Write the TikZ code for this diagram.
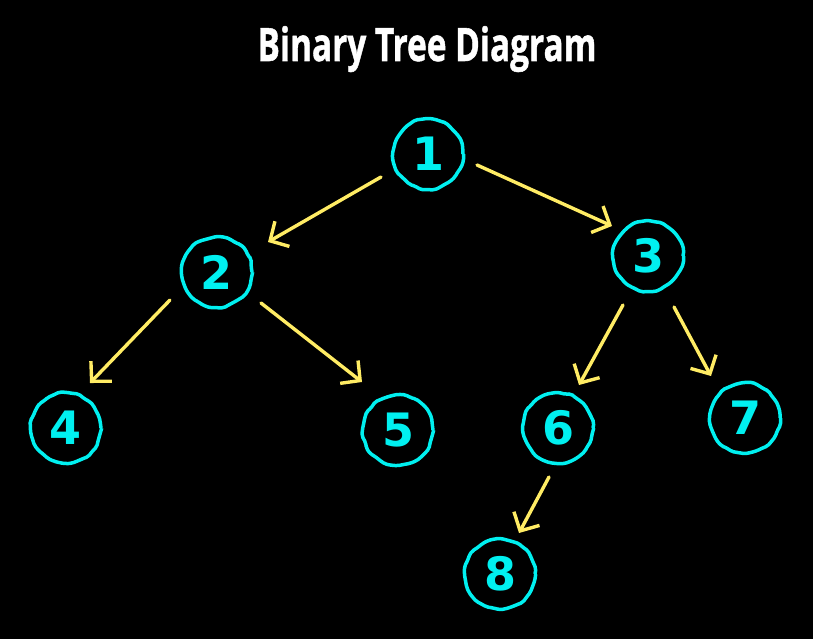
\documentclass[tikz,border=0pt]{standalone}
\usepackage{fontspec}
\usepackage{graphicx}
\usetikzlibrary{arrows.meta,decorations.pathmorphing,calc}
\newfontfamily\titlefont{Open Sans}[BoldFeatures={FakeBold=1.2}]
\newfontfamily\digitfont{DejaVu Sans}
\definecolor{tcyan}{RGB}{0,240,240}
\definecolor{tyellow}{RGB}{255,236,100}
\tikzset{
  tnode/.style={circle, draw=tcyan, line width=3.5pt, minimum size=70pt, inner sep=0pt,
    text=tcyan, font=\digitfont\bfseries\fontsize{46}{46}\selectfont,
    decorate, decoration={random steps, segment length=6pt, amplitude=1pt},
    rounded corners=2pt},
  arr/.style={draw=tyellow, line width=3.4pt, line cap=round,
    -{Straight Barb[length=14pt, width=29pt]}},
}
\begin{document}
\begin{tikzpicture}[x=1pt, y=-1pt]
\pgfmathsetseed{7}
\fill[black] (0,0) rectangle (813,639);
\useasboundingbox (0,0) rectangle (813,639);
\node[text=white, anchor=base] (title) at (427,61)
  {\resizebox{339pt}{\height}{\titlefont\bfseries\fontsize{46}{46}\selectfont Binary Tree Diagram}};
\node[tnode] (n1) at (428,154) {1};
\node[tnode] (n2) at (217,272) {2};
\node[tnode] (n3) at (648,256) {3};
\node[tnode] (n4) at (66,428) {4};
\node[tnode] (n5) at (398,430) {5};
\node[tnode] (n6) at (558,428) {6};
\node[tnode] (n7) at (745,418) {7};
\node[tnode] (n8) at (500,574) {8};
\draw[arr] ($(n1)+(-47,23)$) -- ($(n2)+(51,-30)$);
\draw[arr] ($(n1)+(49,11)$) -- ($(n3)+(-36,-30)$);
\draw[arr] ($(n2)+(-47,28)$) -- ($(n4)+(24,-45)$);
\draw[arr] ($(n2)+(44,31)$) -- ($(n5)+(-36,-48)$);
\draw[arr] ($(n3)+(-25,49)$) -- ($(n6)+(21,-43)$);
\draw[arr] ($(n3)+(26,51)$) -- ($(n7)+(-34,-42)$);
\draw[arr] ($(n6)+(-9,49)$) -- ($(n8)+(19,-41)$);
\end{tikzpicture}
\end{document}
